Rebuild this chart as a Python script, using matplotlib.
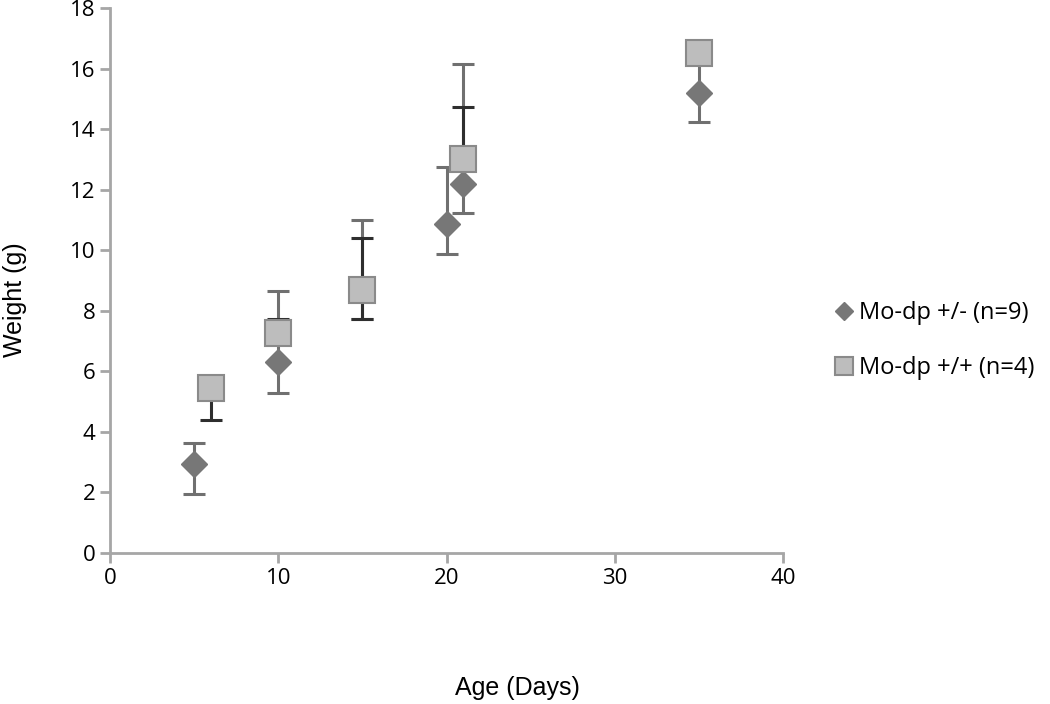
import matplotlib
matplotlib.use("Agg")
import matplotlib.pyplot as plt
import numpy as np

# Mo-dp +/- (n=9): diamonds
het_age = [5, 10, 15, 20, 21, 35]
het_wt = [2.94, 6.3, 8.7, 10.87, 12.2, 15.2]
het_lo = [0.99, 1.02, 0.98, 1.0, 0.98, 0.95]
het_hi = [0.69, 2.35, 2.3, 1.87, 3.94, 1.0]

# Mo-dp +/+ (n=4): squares
wt_age = [6, 10, 15, 21, 35]
wt_wt = [5.44, 7.25, 8.7, 13.0, 16.53]
wt_lo = [1.05, 0.3, 0.98, 0.3, 0.3]
wt_hi = [0.3, 0.47, 1.7, 1.72, 0.3]

labels = ["Mo-dp +/- (n=9)", "Mo-dp +/+ (n=4)"]

fig = plt.figure(figsize=(10.5, 7.04), dpi=100)
ax = fig.add_axes([0.1048, 0.2145, 0.641, 0.7741])

ax.errorbar(het_age, het_wt, yerr=[het_lo, het_hi], fmt="none",
            ecolor="#707070", elinewidth=2.2, capsize=8, capthick=2.2, zorder=2)
ax.errorbar(wt_age, wt_wt, yerr=[wt_lo, wt_hi], fmt="none",
            ecolor="#2e2e2e", elinewidth=2.2, capsize=8, capthick=2.2, zorder=3)

ax.plot(het_age, het_wt, linestyle="none", marker="D", markersize=13,
        color="#777777", markeredgecolor="#777777", label=labels[0], zorder=4)
ax.plot(wt_age, wt_wt, linestyle="none", marker="s", markersize=19,
        markerfacecolor="#bdbdbd", markeredgecolor="#8a8a8a", markeredgewidth=1.5,
        label=labels[1], zorder=5)

ax.set_xlim(0, 40)
ax.set_ylim(0, 18)
ax.set_xticks(np.arange(0, 41, 10))
ax.set_yticks(np.arange(0, 19, 2))

for s in ["top", "right"]:
    ax.spines[s].set_visible(False)
for s in ["left", "bottom"]:
    ax.spines[s].set_color("#a6a6a6")
    ax.spines[s].set_linewidth(2)
ax.tick_params(axis="both", colors="#a6a6a6", width=2, length=7, direction="out",
               labelcolor="black", labelsize=16)
for t in ax.get_xticklabels() + ax.get_yticklabels():
    t.set_family("Open Sans")

fig.text(0.493, 0.023, "Age (Days)", fontsize=18, family="Liberation Sans",
         ha="center", va="center")
fig.text(0.014, 0.575, "Weight (g)", fontsize=18, family="Liberation Sans",
         ha="center", va="center", rotation=90)

fig.legend(loc="center left", bbox_to_anchor=(0.77, 0.516), frameon=False,
           prop={"family": "Open Sans", "size": 17}, handletextpad=0.05,
           labelspacing=1.3, handlelength=1.2, markerscale=0.7)

fig.savefig("out.png", dpi=100)
